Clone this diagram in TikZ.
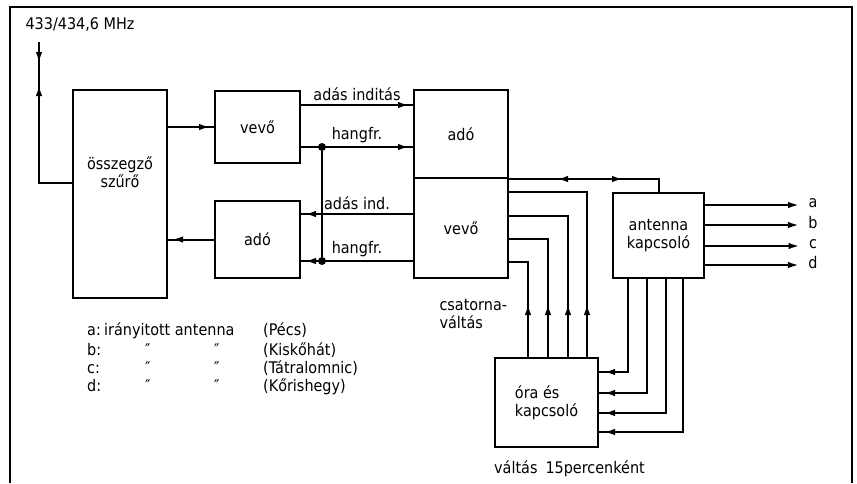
\documentclass[tikz,border=0pt]{standalone}
\usepackage{fontspec}
\setmainfont{DejaVu Sans}[FakeStretch=0.9]
\usetikzlibrary{arrows.meta,calc,decorations.markings}

\begin{document}
\begin{tikzpicture}[x=1pt, y=-1pt,
    font=\fontsize{16}{18}\selectfont,
    box/.style={draw, line width=2pt, inner sep=0pt, align=center},
    wire/.style={line width=2pt},
    tipat/.style={postaction={decorate, decoration={markings, mark=at position #1 with {\arrow{Latex[length=11pt,width=6.5pt]}}}}},
    tipback/.style={postaction={decorate, decoration={markings, mark=at position #1 with {\arrowreversed{Latex[length=11pt,width=6.5pt]}}}}},
    dot/.style={circle, fill, inner sep=0pt, minimum size=8pt},
    legend/.style={anchor=base west, inner sep=0pt}
]
\useasboundingbox (0,0) rectangle (857,483);
\draw[line width=1.3pt] (10,483) -- (10,7) -- (852,7) -- (852,483);

% blocks
\node[box, minimum width=94pt, minimum height=208pt,
      label={[align=center, yshift=22pt]center:összegző\\szűrő}] (sum) at (120,194) {};
\node[box, minimum width=85pt, minimum height=72pt] (rx1) at (257.5,127) {vevő};
\node[box, minimum width=85pt, minimum height=77pt] (tx1) at (257.5,239.5) {adó};
\node[box, minimum width=94pt, minimum height=88pt] (tx2) at (461,134) {adó};
\node[box, minimum width=94pt, minimum height=100pt, anchor=north, yshift=2pt] (rx2) at (tx2.south) {vevő};
\node[box, minimum width=91pt, minimum height=85pt] (sw) at (658.5,235.5) {antenna\\kapcsoló};
\node[box, minimum width=103pt, minimum height=89pt, align=left] (clk) at (546.5,402.5) {óra és\\kapcsoló};

% antenna input
\node (mhz) at (80,24) {433/434,6 MHz};
\coordinate (ant) at (39,42);
\draw[wire, tipat=21pt, tipback=43pt] (ant) |- (sum.west |- 0,183);

\draw[wire, tipat=-4pt] (sum.east |- rx1.west) -- (rx1.west);
\draw[wire, tipat=-4pt] (tx1.west) -- (sum.east |- tx1.west);

% links between the two stations
\coordinate (h1) at ($(rx1.north east)+(0,15)$);
\coordinate (h2) at ($(rx1.north east)+(0,57)$);
\coordinate (l1) at ($(rx2.north west)+(0,37)$);
\coordinate (l2) at ($(rx2.north west)+(0,84)$);
\draw[wire, tipat=-4pt] (h1) -- (h1 -| tx2.west) node[midway, above] {adás inditás};
\draw[wire, tipat=-4pt] (h2) -- (h2 -| tx2.west) node[midway, above] {hangfr.};
\draw[wire, tipat=-4pt] (l1) -- (l1 -| tx1.east) node[midway, above] {adás ind.};
\draw[wire, tipat=-4pt] (l2) -- (l2 -| tx1.east) node[midway, above] {hangfr.};
\node[dot] (j1) at (h2 -| 322,0) {};
\node[dot] (j2) at (l2 -| 322,0) {};
\draw[wire] (j1) -- (j2);

% antenna switch
\draw[wire, tipback=48pt, tipat=114pt] (tx2.south east) -| (sw.north);
\foreach \n/\dy in {a/13, b/33, c/54, d/73}{
  \coordinate (o\n) at ($(sw.north east)+(0,\dy)$);
  \node (out\n) at ($(o\n)+(108,-2)$) {\n};
  \draw[wire, -{Latex[length=11pt,width=6.5pt]}, shorten >=6pt] (o\n) -- (o\n -| out\n.west);
}

% clock and channel switching
\foreach \dy/\x in {15/587, 39/568, 62/548, 85/528}
  \draw[wire, tipat=53pt] (clk.north -| \x,0) |- ($(rx2.north east)+(0,\dy)$);
\foreach \x/\dy in {628/15, 647/36, 666/56, 683/75}
  \draw[wire, tipat=-5pt] (sw.south -| \x,0) |- ($(clk.north east)+(0,\dy)$);
\node[anchor=north west, align=left] (chsw) at (436,296) {csatorna-\\váltás};
\node[anchor=north west, inner sep=0pt] (every) at ($(clk.south west)+(0,12)$) {váltás\enspace 15percenként};

% legend
\node[legend] (ka) at (87,335) {a:};
\node[legend] (ta) at (104,335) {irányitott antenna};
\node[legend] (pa) at (263,335) {(Pécs)};
\foreach \n/\y/\p in {b/355/Kiskőhát, c/373/Tátralomnic, d/391/Kőrishegy}{
  \node[legend] (k\n) at (87,\y) {\n:};
  \node[legend] (d1\n) at (145,\y) {″};
  \node[legend] (d2\n) at (214,\y) {″};
  \node[legend] (p\n) at (263,\y) {(\p)};
}
\end{tikzpicture}
\end{document}
